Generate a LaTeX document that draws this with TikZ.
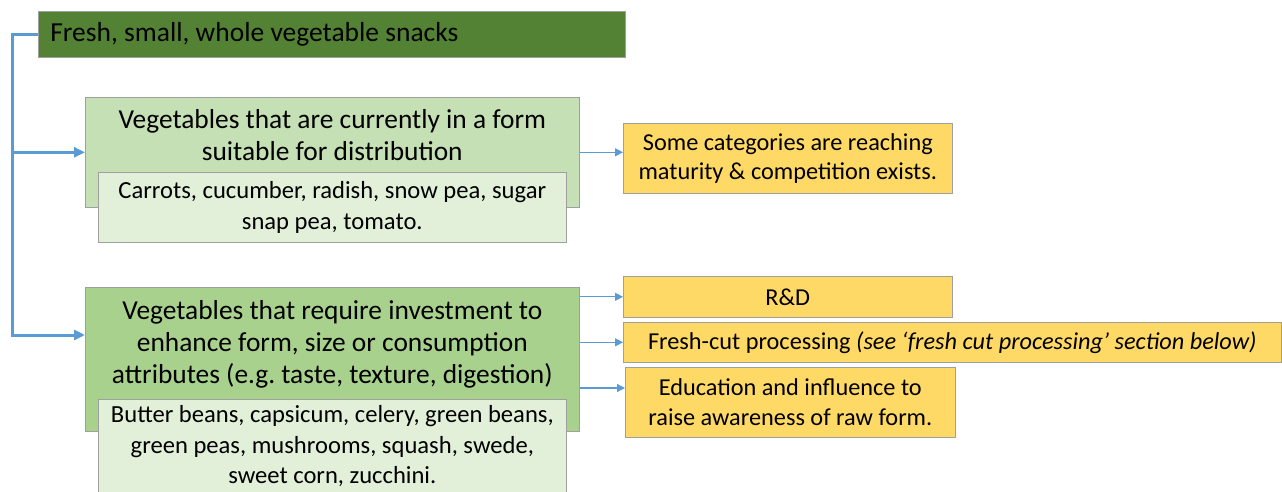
\documentclass[tikz,border=0pt]{standalone}
\usepackage{fontspec}
\setmainfont{Carlito}
\frenchspacing
\usetikzlibrary{positioning,arrows.meta}
\definecolor{snackgreen}{RGB}{84,130,53}
\definecolor{readygreen}{RGB}{197,224,180}
\definecolor{investgreen}{RGB}{169,209,142}
\definecolor{listgreen}{RGB}{226,240,217}
\definecolor{actionyellow}{RGB}{255,217,102}
\definecolor{linkblue}{RGB}{91,155,213}

\begin{document}
\begin{tikzpicture}[x=1pt, y=-1pt,
  box/.style={draw=gray!75, line width=0.6pt, inner sep=0pt, anchor=north west},
  head/.style={font=\fontsize{27.4}{32}\selectfont, align=flush center, inner sep=0pt},
  veg/.style={box, fill=listgreen, font=\fontsize{24.6}{30.5}\selectfont, align=flush center},
  action/.style={box, fill=actionyellow, font=\fontsize{24.3}{29.5}\selectfont, align=flush center},
  spine/.style={linkblue, line width=3pt, -{Triangle[length=11pt,width=10pt]}},
  link/.style={linkblue, line width=1.2pt, -{Triangle[length=8pt,width=8pt]}}]
\useasboundingbox (0,0) rectangle (1282,492);

% Top level
\node[box, fill=snackgreen, minimum width=587pt, minimum height=46pt,
  text width=563pt, align=flush left, font=\fontsize{27.5}{33}\selectfont] (snacks) at (38,11)
  {Fresh, small, whole vegetable snacks};

% Ready for distribution
\node[box, fill=readygreen, minimum width=494pt, minimum height=110pt] (ready) at (85,97) {};
\node[head, below=12pt of ready.north] (readyhead)
  {Vegetables that are currently in a form\\suitable for distribution};
\node[veg, minimum width=468pt, minimum height=70pt] (readylist) at (98,172)
  {Carrots, cucumber, radish, snow pea, sugar\\snap pea, tomato.};

% Needs investment
\node[box, fill=investgreen, minimum width=494pt, minimum height=144pt] (invest) at (85,287) {};
\node[head, below=13pt of invest.north] (investhead)
  {Vegetables that require investment to\\enhance form, size or consumption\\attributes (e.g. taste, texture, digestion)};
\node[veg, minimum width=468pt, minimum height=94pt] (investlist) at (98,399)
  {Butter beans, capsicum, celery, green beans,\\green peas, mushrooms, squash, swede,\\sweet corn, zucchini.};

% Outcomes
\node[action, minimum width=329pt, minimum height=70pt] (mature) at (623,123)
  {Some categories are reaching\\maturity \& competition exists.};
\node[action, minimum width=329pt, minimum height=41pt] (rd) at (623,276)
  {R\&D};
\node[action, minimum width=658pt, minimum height=40pt] (freshcut) at (623,322)
  {Fresh-cut processing \textit{(see `fresh cut processing' section below)}};
\node[action, minimum width=330pt, minimum height=70pt] (educate) at (625,367)
  {Education and influence to\\raise awareness of raw form.};

% Connectors
\coordinate (turn) at (12,335);
\coordinate (edutip) at (625,388);
\draw[spine] (snacks.west) -| (turn) -- (turn -| invest.west);
\draw[spine] (turn |- ready.west) -- (ready.west);
\draw[link] (ready.east) -- (ready.east -| mature.west);
\draw[link] (invest.east |- rd.west) -- (rd.west);
\draw[link] (invest.east |- freshcut.west) -- (freshcut.west);
\draw[link] (invest.east |- edutip) -- (edutip);
\end{tikzpicture}
\end{document}
